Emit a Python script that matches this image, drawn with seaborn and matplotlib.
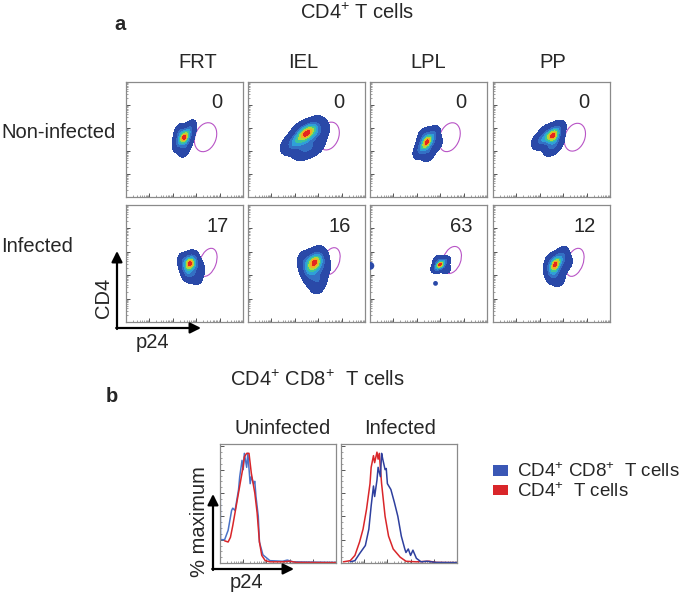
import numpy as np
import pandas as pd
import matplotlib
matplotlib.use("Agg")
import matplotlib.pyplot as plt
from matplotlib.patches import Ellipse, Patch
import seaborn as sns

# ---- data (axis units 0-100) ----
tissues = ["FRT", "IEL", "LPL", "PP"]
conditions = ["Non-infected", "Infected"]
gate_pct = [[0, 0, 0, 0], [17, 16, 63, 12]]

# density blobs: anchor points + weights for each condition / tissue
blob_x = [
    [[50, 46, 55, 45, 50, 54], [50, 56, 41, 36, 48, 57, 61, 45],
     [49, 45, 54, 46, 50, 57, 42], [51, 43, 39, 55, 50, 55, 46]],
    [[55, 51, 58, 53, 60, 49, 63], [57, 51, 62, 53, 61, 58, 65, 48],
     [60, 57, 64, 58, 65], [54, 50, 59, 52, 57, 63, 49]],
]
blob_y = [
    [[52, 56, 59, 47, 42, 50], [55, 61, 48, 45, 41, 44, 56, 58],
     [48, 43, 54, 53, 38, 46, 40], [53, 50, 48, 59, 43, 48, 57]],
    [[50, 47, 54, 41, 39, 53, 46], [51, 48, 55, 41, 37, 32, 47, 52],
     [49, 46, 52, 53, 45], [50, 46, 56, 41, 37, 50, 52]],
]
blob_w = [
    [[5, 2, 2, 2, 1.5, 1], [5, 2, 2.5, 1, 2, 1.5, 1.5, 1],
     [5, 2, 2, 1.5, 1.5, 1, 1], [5, 2, 1, 2, 2, 1, 1]],
    [[5, 2, 2, 2, 1.5, 1, 1], [5, 2, 2, 2, 1.5, 1, 1, 1],
     [5, 2, 2, 1, 1], [5, 2, 2, 2, 1, 1, 1]],
]
# stray events in the infected LPL panel
lpl_dots_x = [0.3, 56]
lpl_dots_y = [48, 33]
lpl_dots_n = [2, 1]

# p24 gates (centre x, centre y, width, height)
gates = [
    [(68, 52, 18, 26), (69, 53, 17, 25), (68, 52, 17, 26), (70, 52, 17, 25)],
    [(70, 51, 14, 25), (71, 52, 14, 24), (70, 53, 15, 24), (70, 51, 14, 25)],
]

# histograms (% of maximum vs p24 position)
uninf_blue_x = [0, 0.5, 4, 7, 10, 11, 13, 14, 16, 17, 19, 20, 21, 23, 24, 26, 27, 29, 30, 31, 33, 34, 37, 43, 54, 58, 63, 100]
uninf_blue_y = [95, 20, 20, 28, 45, 47, 45, 51, 63, 74, 88, 80, 94, 82, 94, 68, 74, 68, 70, 57, 40, 18, 7, 2, 1.5, 2.5, 1, 0.5]
uninf_red_x = [4, 7, 9, 11, 14, 17, 20, 21, 23, 25, 27, 30, 32, 34, 36, 39, 43, 54, 60, 66, 100]
uninf_red_y = [19, 18, 22, 32, 49, 66, 83, 91, 94, 94, 77, 60, 43, 18, 6.5, 2, 1, 1, 1.5, 0.5, 0.3]
inf_red_x = [2, 8, 12, 16, 19, 22, 25, 26, 28, 29, 31, 32, 33, 35, 38, 41, 45, 51, 56, 65, 76, 82, 100]
inf_red_y = [1, 2, 6.5, 18, 29, 46, 68, 82, 92, 86, 95, 89, 94, 68, 40, 23, 12, 5, 1.5, 1, 1.5, 0.5, 0.3]
inf_blue_x = [8, 12, 16, 21, 24, 26, 28, 29, 31, 32, 34, 35, 36, 38, 39, 40, 43, 46, 49, 52, 55, 56, 58, 60, 62, 65, 69, 74, 82, 100]
inf_blue_y = [1, 2, 8, 15, 29, 49, 66, 57, 71, 82, 74, 94, 89, 80, 81, 68, 63, 52, 40, 23, 12, 9, 12, 6.5, 11, 4, 1, 1.5, 0.5, 0.3]

legend_labels = ["CD4$^{+}$ CD8$^{+}$  T cells", "CD4$^{+}$  T cells"]

# ---- style ----
sns.set_theme(style="white")
plt.rcParams["font.family"] = ["Liberation Sans", "DejaVu Sans"]
plt.rcParams["mathtext.fontset"] = "custom"
plt.rcParams["mathtext.rm"] = "Liberation Sans"
plt.rcParams["mathtext.default"] = "regular"

W, H = 685, 593
fig = plt.figure(figsize=(W / 100, H / 100), dpi=100)
FS = 14.5

density_colors = ["#2a49a8", "#3470c4", "#2fa0d8", "#3ec49a", "#b0d83a", "#f4aa24", "#e3261e"]
density_levels = [0.05, 0.38, 0.57, 0.71, 0.82, 0.9, 0.96, 1.0]


def px_axes(left, top, width, height):
    return fig.add_axes([left / W, 1 - (top + height) / H, width / W, height / H])


def decade_ticks(ax, n_dec=5):
    major = [i * 100 / n_dec for i in range(n_dec + 1)]
    minor = [(i + np.log10(k)) * 100 / n_dec for i in range(n_dec) for k in range(2, 10)]
    for axis in (ax.xaxis, ax.yaxis):
        axis.set_ticks(major)
        axis.set_ticks(minor, minor=True)
    ax.set_xticklabels([])
    ax.set_yticklabels([])
    ax.tick_params(which="major", direction="in", length=3, width=0.7, color="#555555",
                   bottom=True, left=True)
    ax.tick_params(which="minor", direction="in", length=1.5, width=0.5, color="#777777",
                   bottom=True, left=True)


def style_box(ax):
    ax.set_xlim(0, 100)
    ax.set_ylim(0, 100)
    for s in ax.spines.values():
        s.set_color("#8a8a8a")
        s.set_linewidth(0.9)
    ax.set_xlabel("")
    ax.set_ylabel("")


# ---- panel a: flow density plots ----
col_left = [126, 248, 370, 493]
row_top = [82, 205]
row_h = [115, 117]

for r in range(2):
    for c in range(4):
        ax = px_axes(col_left[c], row_top[r], 117, row_h[r])
        gx, gy, gw, gh = gates[r][c]
        ax.add_patch(Ellipse((gx, gy), gw, gh, angle=-20, fill=False,
                             edgecolor="#b854c6", lw=0.8, zorder=1))
        n_before = len(ax.collections)
        sns.kdeplot(x=np.array(blob_x[r][c], float), y=np.array(blob_y[r][c], float),
                    weights=np.array(blob_w[r][c], float), fill=True,
                    levels=density_levels, cmap="Blues",
                    bw_adjust=1.0, gridsize=160, cut=4, ax=ax)
        # recolour the filled bands with the cytometry palette
        for coll in ax.collections[n_before:]:
            coll.set_array(None)
            coll.set_facecolor(density_colors)
            coll.set_edgecolor("none")
            coll.set_zorder(2)
        if r == 1 and c == 2:
            sns.scatterplot(x=lpl_dots_x, y=lpl_dots_y, size=lpl_dots_n, sizes=(12, 32),
                            color="#2a49a8", edgecolor="none", legend=False, ax=ax, zorder=3)
        ax.text(0.78, 0.82, str(gate_pct[r][c]), transform=ax.transAxes,
                ha="center", va="center", fontsize=FS)
        style_box(ax)
        decade_ticks(ax)

# ---- panel b: histograms ----
hist_specs = [
    (220, "Uninfected", [(uninf_blue_x, uninf_blue_y, "#4a72c8"), (uninf_red_x, uninf_red_y, "#d9262a")]),
    (341, "Infected", [(inf_red_x, inf_red_y, "#d9262a"), (inf_blue_x, inf_blue_y, "#2e3f9e")]),
]
for left, title, curves in hist_specs:
    ax = px_axes(left, 444, 116, 119)
    for xs, ys, col in curves:
        sns.lineplot(x=xs, y=ys, color=col, lw=1.1, estimator=None, sort=False, ax=ax)
    style_box(ax)
    ax.set_ylim(0, 102)
    decade_ticks(ax)
    ax.yaxis.set_ticks([0, 20, 40, 60, 80, 100])
    ax.yaxis.set_ticks(np.arange(0, 101, 5), minor=True)
    ax.set_yticklabels([])

# ---- overlay for labels and arrows ----
ov = fig.add_axes([0, 0, 1, 1])
ov.set_xlim(0, W)
ov.set_ylim(H, 0)
ov.axis("off")
ov.patch.set_alpha(0)

ov.text(357, 13, "CD4$^{+}$ T cells", ha="center", va="center", fontsize=FS)
ov.text(120, 25, "a", ha="center", va="center", fontsize=FS, fontweight="bold")
for x, t in zip([198, 303, 428, 553], tissues):
    ov.text(x, 63, t, ha="center", va="center", fontsize=FS)
ov.text(1, 133, conditions[0], ha="left", va="center", fontsize=FS)
ov.text(1, 247, conditions[1], ha="left", va="center", fontsize=FS)

arrow = dict(arrowstyle="-|>", lw=1.6, color="black", mutation_scale=16, shrinkA=0, shrinkB=0)
ov.annotate("", xy=(117, 251), xytext=(117, 329), arrowprops=arrow)
ov.annotate("", xy=(201, 328), xytext=(116.2, 328), arrowprops=arrow)
ov.text(104, 298, "CD4", rotation=90, ha="center", va="center", fontsize=FS)
ov.text(153, 343, "p24", ha="center", va="center", fontsize=FS)

ov.text(112, 396, "b", ha="center", va="center", fontsize=FS, fontweight="bold")
ov.text(317, 380, "CD4$^{+}$ CD8$^{+}$  T cells", ha="center", va="center", fontsize=FS)
ov.text(283, 428, "Uninfected", ha="center", va="center", fontsize=FS)
ov.text(400, 428, "Infected", ha="center", va="center", fontsize=FS)
ov.annotate("", xy=(213, 494), xytext=(213, 570), arrowprops=arrow)
ov.annotate("", xy=(294, 569), xytext=(212.2, 569), arrowprops=arrow)
ov.text(200, 522, "% maximum", rotation=90, ha="center", va="center", fontsize=FS)
ov.text(247, 583, "p24", ha="center", va="center", fontsize=FS)

handles = [Patch(facecolor="#3a57b5", edgecolor="none"), Patch(facecolor="#d9262a", edgecolor="none")]
fig.legend(handles, legend_labels, loc="upper left", bbox_to_anchor=(486 / W, 1 - 455 / H),
           frameon=False, fontsize=13.5, handlelength=0.8, handleheight=0.45,
           handletextpad=0.45, labelspacing=0.05, borderaxespad=0)

fig.savefig("out.png", dpi=100)
